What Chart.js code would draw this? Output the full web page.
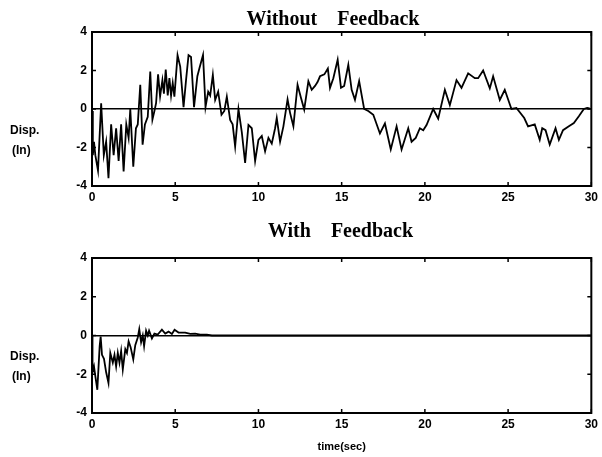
<!DOCTYPE html>
<html>
<head>
<meta charset="utf-8">
<script src="https://cdn.jsdelivr.net/npm/chart.js@4"></script>
<style>
  body { margin: 0; background: #fff; }
  .box { position: absolute; left: 0; width: 602px; }
  #topBox { top: 0; height: 206px; }
  #bottomBox { top: 210px; height: 247px; }
</style>
</head>
<body>
<div class="box" id="topBox"><canvas id="topChart"></canvas></div>
<div class="box" id="bottomBox"><canvas id="bottomChart"></canvas></div>
<script>
// time (sec) and displacement (in)
const timeWithout = [0, 0.05, 0.12, 0.2, 0.36, 0.55, 0.71, 0.85, 0.99, 1.15, 1.3, 1.45, 1.6, 1.75, 1.9, 2.06, 2.2, 2.3, 2.48, 2.64,
  2.75, 2.9, 3.04, 3.18, 3.35, 3.5, 3.63, 3.75, 3.85, 3.97, 4.09, 4.23, 4.32, 4.43, 4.55, 4.65, 4.75, 4.85, 4.95, 5.14,
  5.3, 5.5, 5.65, 5.8, 5.95, 6.13, 6.33, 6.45, 6.67, 6.82, 6.98, 7.1, 7.26, 7.4, 7.58, 7.78, 7.95, 8.1, 8.3, 8.45,
  8.6, 8.8, 9.0, 9.2, 9.4, 9.6, 9.8, 10.0, 10.2, 10.4, 10.6, 10.8, 11.0, 11.1, 11.3, 11.5, 11.75, 11.9, 12.1, 12.35,
  12.55, 12.75, 13.0, 13.2, 13.4, 13.55, 13.7, 13.96, 14.17, 14.3, 14.5, 14.76, 14.96, 15.15, 15.4, 15.6, 15.8, 16.05, 16.35, 16.6,
  16.9, 17.3, 17.6, 17.95, 18.3, 18.6, 19.0, 19.2, 19.45, 19.7, 19.9, 20.1, 20.5, 20.8, 21.2, 21.5, 21.9, 22.2, 22.6, 23.0,
  23.2, 23.5, 23.9, 24.1, 24.5, 24.8, 25.2, 25.5, 25.97, 26.2, 26.6, 26.9, 27.05, 27.25, 27.5, 27.85, 28.05, 28.3, 28.65, 28.95,
  29.25, 29.55, 29.75, 29.9];
const dispWithout = [-0.1, -2.4, -1.7, -2.4, -3.2, 0.3, -2.4, -1.7, -3.6, -0.8, -2.4, -1.0, -2.7, -0.8, -3.25, -0.8, -1.5, 0.0, -3.0, -1.0,
  -0.8, 1.26, -1.85, -0.8, -0.4, 1.95, -0.55, -0.1, 0.3, 1.8, 0.65, 1.5, 0.8, 2.05, 0.7, 1.6, 0.7, 1.35, 0.64, 2.8,
  2.2, 0.1, 1.5, 2.8, 2.7, 0.1, 1.7, 2.1, 2.8, 0.1, 0.9, 0.7, 1.77, 0.47, 0.9, -0.3, -0.1, 0.64, -0.57, -0.8,
  -1.95, 0.0, -1.2, -2.8, -0.83, -1.0, -2.7, -1.6, -1.4, -2.2, -1.5, -1.8, -1.0, -0.47, -1.7, -0.9, 0.5, -0.2, -0.9, 1.26,
  0.6, -0.03, 1.44, 1.0, 1.2, 1.4, 1.7, 1.8, 2.1, 1.1, 1.6, 2.56, 1.1, 1.2, 2.3, 1.0, 0.48, 1.45, 0.0, -0.1,
  -0.3, -1.27, -0.75, -2.1, -0.9, -2.1, -1.0, -1.7, -1.5, -1.0, -1.1, -0.83, 0.0, -0.5, 1.0, 0.2, 1.5, 1.1, 1.85, 1.6,
  1.6, 2.0, 1.07, 1.7, 0.47, 1.0, 0.0, 0.05, -0.47, -0.9, -0.8, -1.6, -1.0, -1.1, -1.85, -1.0, -1.6, -1.1, -0.9, -0.73,
  -0.38, 0.0, 0.05, 0.03];

const timeWith = [0, 0.03, 0.12, 0.2, 0.32, 0.46, 0.52, 0.6, 0.72, 0.85, 0.99, 1.1, 1.25, 1.35, 1.45, 1.55, 1.65, 1.75, 1.85, 2.0,
  2.1, 2.2, 2.32, 2.48, 2.6, 2.75, 2.84, 2.95, 3.05, 3.13, 3.25, 3.35, 3.43, 3.6, 3.75, 3.95, 4.2, 4.4, 4.6, 4.8,
  4.96, 5.2, 5.6, 5.9, 6.2, 6.5, 6.9, 7.2, 30];
const dispWith = [0, -1.9, -1.6, -2.1, -2.8, -0.55, -0.05, -1.0, -1.2, -1.9, -2.45, -0.9, -1.4, -1.0, -1.6, -0.9, -1.4, -0.8, -1.75, -0.7,
  -0.9, -0.3, -0.6, -1.23, -0.5, -0.1, 0.33, -0.35, 0.0, -0.55, 0.25, 0.0, 0.25, -0.15, 0.1, 0.05, 0.3, 0.1, 0.2, 0.08,
  0.3, 0.15, 0.15, 0.08, 0.1, 0.05, 0.05, 0, 0];

const xTicks = [0, 5, 10, 15, 20, 25, 30];
const yTicks = [-4, -2, 0, 2, 4];

const tickFont = { family: '"Liberation Sans", Arial, sans-serif', weight: 'bold', size: 12 };

const framePlugin = {
    id: 'frame',
    afterDraw(chart, args, opts) {
        const { ctx, chartArea: a, scales } = chart;
        ctx.save();
        ctx.strokeStyle = '#000';
        ctx.lineWidth = 2;
        ctx.strokeRect(a.left, a.top, a.right - a.left, a.bottom - a.top);
        ctx.lineWidth = 1.5;
        ctx.beginPath();
        scales.x.ticks.forEach(t => {
            const px = scales.x.getPixelForValue(t.value);
            ctx.moveTo(px, a.top); ctx.lineTo(px, a.top + 4);
            ctx.moveTo(px, a.bottom); ctx.lineTo(px, a.bottom - 4);
        });
        scales.y.ticks.forEach(t => {
            const py = scales.y.getPixelForValue(t.value);
            ctx.moveTo(a.left, py); ctx.lineTo(a.left + 4, py);
            ctx.moveTo(a.right, py); ctx.lineTo(a.right - 4, py);
        });
        ctx.stroke();
        ctx.fillStyle = '#000';
        ctx.font = 'bold 12px "Liberation Sans", Arial, sans-serif';
        ctx.textAlign = 'left';
        ctx.textBaseline = 'middle';
        ctx.fillText('Disp.', opts.labelX, opts.labelY);
        ctx.fillText('(In)', opts.labelX + 2, opts.labelY + 20);
        ctx.restore();
    }
};

function makeChart(id, times, disps, title, titlePad, labelY, xHeight, showXTitle) {
    const ctx = document.getElementById(id).getContext('2d');
    return new Chart(ctx, {
        type: 'scatter',
        data: {
            datasets: [{
                data: times.map((t, i) => ({ x: t, y: disps[i] })),
                showLine: true,
                borderColor: '#000',
                borderWidth: 1.8,
                pointRadius: 0,
                tension: 0
            }]
        },
        options: {
            responsive: true,
            maintainAspectRatio: false,
            animation: false,
            layout: { padding: { left: 70, right: 6, top: 0, bottom: 0 } },
            scales: {
                x: {
                    type: 'linear',
                    min: 0,
                    max: 30,
                    afterBuildTicks: scale => { scale.ticks = xTicks.map(v => ({ value: v })); },
                    grid: { display: false, drawTicks: false },
                    border: { display: false },
                    ticks: { color: '#000', font: tickFont, padding: 4, maxRotation: 0 },
                    title: {
                        display: showXTitle,
                        text: 'time(sec)',
                        color: '#000',
                        font: { family: '"Liberation Sans", Arial, sans-serif', weight: 'bold', size: 11 },
                        padding: { top: 0, bottom: 3 }
                    },
                    afterFit: scale => { scale.height = xHeight; }
                },
                y: {
                    min: -4,
                    max: 4,
                    afterBuildTicks: scale => { scale.ticks = yTicks.map(v => ({ value: v })); },
                    grid: {
                        drawTicks: false,
                        color: c => c.tick && c.tick.value === 0 ? '#000' : 'rgba(0,0,0,0)',
                        lineWidth: 1.5
                    },
                    border: { display: false },
                    ticks: { color: '#000', font: tickFont, padding: 5 },
                    afterFit: scale => { scale.width = 22; }
                }
            },
            plugins: {
                legend: { display: false },
                tooltip: { enabled: false },
                title: {
                    display: true,
                    text: title,
                    color: '#000',
                    font: { family: '"Liberation Serif", "Times New Roman", serif', weight: 'bold', size: 20 },
                    padding: titlePad
                },
                frame: { labelX: 10, labelY: labelY }
            }
        },
        plugins: [framePlugin]
    });
}

makeChart('topChart', timeWithout, dispWithout, 'Without    Feedback', { top: 8, bottom: 0 }, 131, 20, false);
makeChart('bottomChart', timeWith, dispWith, '   With    Feedback', { top: 10, bottom: 14 }, 147, 44, true);
</script>
</body>
</html>
